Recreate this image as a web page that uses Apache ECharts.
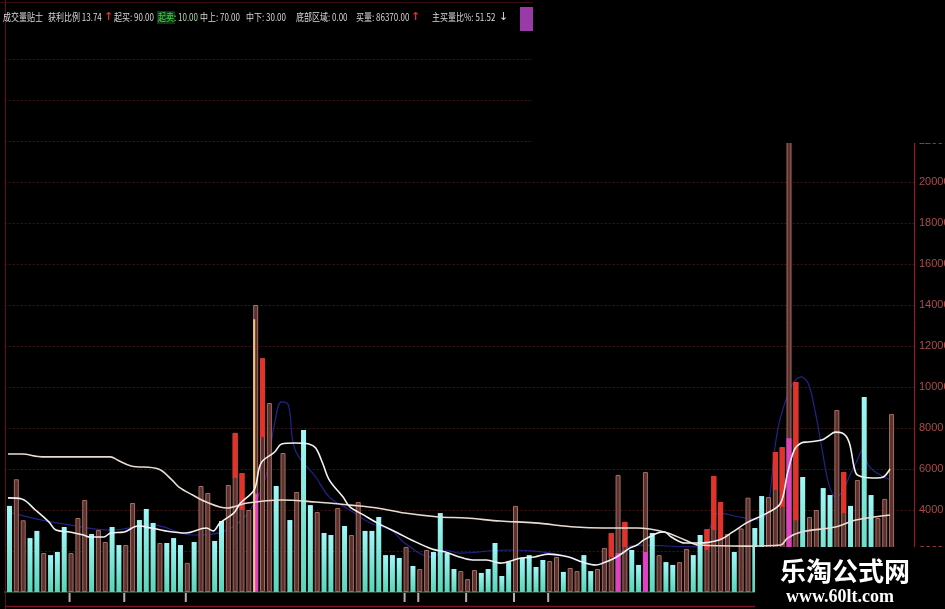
<!DOCTYPE html>
<html><head><meta charset="utf-8">
<script src="https://cdn.jsdelivr.net/npm/echarts@6/dist/echarts.min.js"></script>
<style>html,body{margin:0;padding:0;background:#000;}#c{width:945px;height:609px;}</style>
</head><body><div id="c"></div>
<script>
// ---- data ----
const slotCount = 133; // 130 trading days + empty space on the right
const volume = [
4200,5500,3500,2630,2980,1900,1800,1950,3170,1900,
3610,4490,2830,3020,2440,3170,2290,2290,4340,3510,
4050,3370,2390,2390,2630,2290,1420,2440,5170,4830,
2490,3460,5220,7760,5800,4000,14000,11400,9220,5170,
6780,3510,4880,7900,4240,3900,2880,2780,4100,3220,
2780,4390,2980,2980,3660,1800,1800,1660,2200,1270,
1120,2050,1950,3850,1900,1120,1020,630,1070,930,
1120,2390,780,1460,4200,1660,1800,1220,1560,1510,
1710,980,1170,1020,1800,1020,1120,2150,2880,5710,
3420,2050,1320,5850,2880,1800,1460,1320,1460,2100,
1800,2780,3070,5660,4390,2830,1950,3100,4600,3120,
4680,4630,6830,7070,26000,10240,5610,3660,4000,5070,
4730,8880,5850,4200,5460,9510,4730,3610,4540,8680];
const direction = ('duuddudddu'+'uuduudduud'+'dduddduduu'+'dduuuuuuud'+'ududduddud'+
  'uuddddddud'+'uudddduuud'+'dddduddddu'+'uduudduuuu'+'uddududduu'+
  'dduuuuduud'+'duuuuuduud'+'duududduuu').split('');
// red (main buying) section: [day, from, to]
const redBars = [[33,5560,7760],[34,4000,5800],[37,7560,11400],[88,1710,2880],[90,2200,3420],
  [102,2050,3070],[103,3020,5660],[104,2540,4390],[112,4980,6830],[113,4150,7070],[115,3500,10240],[122,3850,5850]];
const magentaBars = [[36,4800],[89,1900],[93,1950],[114,7500]];
const yellowBars = [[36,13300]];
const belowTicks = [9,17,26,58,60,67,74,79];
// moving averages: [day, value]
const maShort = [[0,4590],[2,4540],[4,4000],[6,3410],[7,3020],[9,2930],[11,2780],[12,2680],[14,2680],[15,2880],
 [17,2930],[19,3220],[21,3120],[23,2980],[26,2880],[29,3120],[30,2980],[31,3370],[33,3850],[34,4340],
 [36,4980],[37,6290],[39,6830],[40,7220],[42,7270],[44,7220],[45,7020],[46,6290],[47,5460],[49,4630],
 [50,4150],[52,3760],[54,3370],[57,2880],[59,2540],[62,2100],[64,1950],[66,1710],[68,1560],[70,1560],
 [72,1410],[74,1560],[75,1660],[77,1710],[79,1850],[82,1710],[84,1460],[86,1320],[87,1410],[89,1710],
 [91,2150],[92,2290],[93,2540],[95,2880],[96,2930],[97,2680],[99,2390],[101,2390],[104,2540],[106,2930],
 [108,3370],[111,3850],[113,4340],[114,5800],[115,6930],[116,7270],[117,7320],[119,7410],[120,7610],[121,7800],
 [122,7760],[123,7320],[124,5800],[125,5610],[127,5560],[128,5610],[129,6000]];
const maLong = [[0,6730],[2,6730],[5,6590],[15,6590],[16,6440],[18,6150],[22,6000],[24,5460],[25,5120],[27,4730],
 [29,4390],[32,4100],[35,4340],[40,4490],[45,4390],[50,4240],[54,4100],[58,3850],[63,3660],[67,3610],
 [72,3460],[77,3370],[83,3170],[87,3120],[92,3120],[96,2930],[99,2540],[101,2290],[108,2240],[113,2290],
 [114,2630],[116,2930],[121,3170],[124,3510],[129,3760]];
const maFast = [[0,3900],[5,3510],[9,3270],[15,3020],[21,3270],[27,2780],[32,3020],[37,4980],[39,8240],[40,9270],
 [41,9120],[42,6930],[45,5610],[47,4630],[50,4000],[53,3370],[56,3020],[58,2390],[62,1710],[64,2050],
 [66,1900],[73,2050],[81,1800],[86,1320],[92,2290],[101,2200],[102,2540],[104,3850],[107,3660],[110,3510],
 [113,8540],[116,10490],[117,10200],[118,8880],[119,7070],[120,5320],[121,4630],[124,6290],[125,6930],[126,6100],[129,5460]];
const headerItems = [
 ['成交量贴士',3,'#d8d8d8'],['获利比例 13.74',48,'#d8d8d8'],['起买: 90.00',114,'#d8d8d8'],
 ['起卖',158,'#46d046'],[': 10.00',174,'#b8d8b8'],['中上: 70.00',200,'#d8d8d8'],['中下: 30.00',246,'#d8d8d8'],
 ['底部区域: 0.00',296,'#d8d8d8'],['买量: 86370.00',356,'#d8d8d8'],['主买量比%: 51.52',432,'#d8d8d8']];

// ---- build series data ----
const cats = Array.from({length: slotCount}, (_, i) => String(i));
const upData = volume.map((v, i) => direction[i] === 'u' ? v : null);
const downData = volume.map((v, i) => direction[i] === 'd' ? v : null);
const redBase = new Array(volume.length).fill(null), redPart = new Array(volume.length).fill(null);
redBars.forEach(([i, a, b]) => { redBase[i] = a; redPart[i] = b - a; });
const magData = new Array(volume.length).fill(null); magentaBars.forEach(([i, v]) => magData[i] = v);
const yelData = new Array(volume.length).fill(null); yellowBars.forEach(([i, v]) => yelData[i] = v);

const chart = echarts.init(document.getElementById('c'), null, {renderer: 'canvas'});
const graphic = [
  {type:'line', shape:{x1:5.5,y1:0,x2:5.5,y2:609}, style:{stroke:'#5e1020', lineWidth:1}, z:50},
  {type:'line', shape:{x1:0,y1:2.5,x2:533,y2:2.5}, style:{stroke:'#3a0c14', lineWidth:1}, z:50},
  {type:'line', shape:{x1:5,y1:606.5,x2:760,y2:606.5}, style:{stroke:'#7a1424', lineWidth:1.5}, z:50},
  {type:'rect', shape:{x:533,y:0,width:412,height:143}, style:{fill:'#000'}, z:100},
  {type:'rect', shape:{x:157,y:11,width:18,height:13}, style:{fill:'#0c3a12'}, z:100},
  {type:'text', x:104, y:17, style:{text:'↑', fill:'#e03030', font:'bold 11px "DejaVu Sans"', textVerticalAlign:'middle'}, z:101},
  {type:'text', x:411, y:17, style:{text:'↑', fill:'#e03030', font:'bold 11px "DejaVu Sans"', textVerticalAlign:'middle'}, z:101},
  {type:'text', x:499, y:17, style:{text:'↓', fill:'#d8d8d8', font:'11px "DejaVu Sans"', textVerticalAlign:'middle'}, z:101},
  {type:'rect', shape:{x:520,y:7,width:13,height:24}, style:{fill:'#9a3aa8'}, z:100},
  {type:'rect', shape:{x:755,y:547,width:190,height:62}, style:{fill:'#000'}, z:100},
  {type:'text', x:845, y:571, style:{text:'乐淘公式网', fill:'#fff', font:'bold 26px "Noto Sans CJK SC"', textAlign:'center', textVerticalAlign:'middle'}, z:101},
  {type:'text', x:840, y:597, style:{text:'www.60lt.com', fill:'#fff', font:'bold 18px "Liberation Serif"', textAlign:'center', textVerticalAlign:'middle'}, z:101}
];
headerItems.forEach(([t, x, c]) => graphic.push({type:'text', x:x, y:17, scaleX:0.8,
  style:{text:t, fill:c, font:'10px "Noto Sans CJK SC"', textVerticalAlign:'middle'}, z:101}));

const barCommon = {type:'bar', barGap:'-100%', barWidth:5, silent:true, animation:false};
chart.setOption({
  backgroundColor:'#000',
  animation:false,
  grid:{left:4.6, right:31, top:59, bottom:17, containLabel:false, outerBoundsMode:'none'},
  xAxis:{type:'category', data:cats, boundaryGap:true,
    axisLine:{show:true, lineStyle:{color:'#2e5e44', width:1.5}}, axisTick:{show:false}, axisLabel:{show:false}, splitLine:{show:false}},
  yAxis:{type:'value', position:'right', min:0, max:26000, interval:2000,
    axisLine:{show:true, lineStyle:{color:'#a01830'}}, axisTick:{show:false},
    axisLabel:{color:'#b04a4a', fontSize:11, fontFamily:'Liberation Sans', margin:5, formatter:v => String(v)},
    splitLine:{show:true, lineStyle:{color:'#431616', type:[2,2]}}},
  graphic: graphic,
  series:[
    {type:'line', data:maFast, smooth:0.4, symbol:'none', lineStyle:{color:'#23238a', width:1.2}, silent:true, z:1},
    Object.assign({}, barCommon, {data:upData, itemStyle:{color:'#5a322e', borderColor:'#a86c62', borderWidth:1}}),
    Object.assign({}, barCommon, {data:downData, itemStyle:{color:new echarts.graphic.LinearGradient(0,0,0,1,[{offset:0,color:'#9ff8f8'},{offset:1,color:'#5ad4b8'}])}}),
    Object.assign({}, barCommon, {data:redBase, stack:'red', itemStyle:{color:'rgba(0,0,0,0)'}}),
    Object.assign({}, barCommon, {data:redPart, stack:'red', itemStyle:{color:'#e2322a'}}),
    Object.assign({}, barCommon, {data:magData, barWidth:5, itemStyle:{color:'#e040c4'}}),
    Object.assign({}, barCommon, {data:yelData, barWidth:2, itemStyle:{color:'#f2c878'}}),
    {type:'custom', silent:true, clip:false, data:belowTicks.map(i => [i, 0]),
      renderItem:function(params, api){ const p = api.coord([api.value(0), 0]);
        return {type:'line', shape:{x1:p[0], y1:p[1]+1, x2:p[0], y2:p[1]+10}, style:{stroke:'#c8aaa2', lineWidth:2}}; }},
    {type:'line', data:maLong, smooth:0.35, symbol:'none', lineStyle:{color:'#e8dcd0', width:1.6}, silent:true},
    {type:'line', data:maShort, smooth:0.35, symbol:'none', lineStyle:{color:'#f2f2f2', width:1.6}, silent:true}
  ]
});
</script></body></html>
